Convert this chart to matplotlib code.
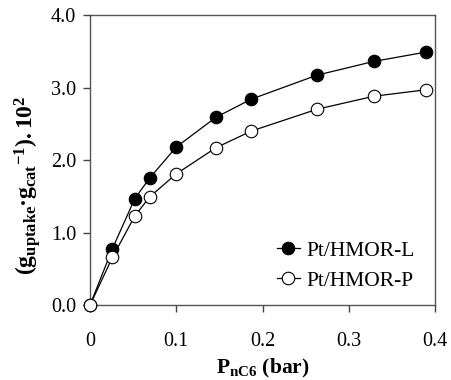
import matplotlib
matplotlib.use("Agg")
import matplotlib.pyplot as plt

p_nc6 = [0.0, 0.026, 0.052, 0.069, 0.100, 0.146, 0.187, 0.263, 0.329, 0.390]
pt_hmor_l = [0.0, 0.78, 1.47, 1.75, 2.18, 2.59, 2.84, 3.17, 3.36, 3.49]
pt_hmor_p = [0.0, 0.66, 1.23, 1.49, 1.81, 2.17, 2.40, 2.70, 2.88, 2.97]
xticks = [0, 0.1, 0.2, 0.3, 0.4]
xticklabels = ["0", "0.1", "0.2", "0.3", "0.4"]
yticks = [0, 1, 2, 3, 4]
yticklabels = ["0.0", "1.0", "2.0", "3.0", "4.0"]

plt.rcParams['font.family'] = ['Liberation Serif', 'DejaVu Serif']
plt.rcParams['mathtext.fontset'] = 'custom'
plt.rcParams['mathtext.rm'] = 'Liberation Serif:bold'
plt.rcParams['mathtext.bf'] = 'Liberation Serif:bold'
plt.rcParams['mathtext.it'] = 'Liberation Serif:bold'

fig = plt.figure(figsize=(4.51, 3.80), dpi=100)
ax = fig.add_axes([0.1996, 0.197, 0.7649, 0.7635])

ax.plot(p_nc6, pt_hmor_l, '-o', color='black', lw=0.9, ms=9,
        mfc='black', mec='black', mew=0.8, label='Pt/HMOR-L', clip_on=False, zorder=3)
ax.plot(p_nc6, pt_hmor_p, '-o', color='black', lw=0.9, ms=9,
        mfc='white', mec='black', mew=0.8, label='Pt/HMOR-P', clip_on=False, zorder=4)

ax.set_xlim(0, 0.4)
ax.set_ylim(0, 4.0)
ax.set_xticks(xticks)
ax.set_xticklabels(xticklabels)
ax.set_yticks(yticks)
ax.set_yticklabels(yticklabels)
ax.tick_params(direction='out', length=5, width=1, colors='#444444',
               labelcolor='black', labelsize=14.5)
ax.tick_params(axis='x', pad=14)
ax.tick_params(axis='y', pad=5)
for s in ax.spines.values():
    s.set_color('#555555')
    s.set_linewidth(1.0)

ax.set_xlabel(r'$\mathrm{P}_{\mathrm{nC6}}$ (bar)', fontsize=15.5, fontweight='bold')
ax.xaxis.set_label_coords(0.5, -0.178)
ax.set_ylabel(r'$(\mathrm{g}_{\mathrm{uptake}}\!\bullet\!\mathrm{g}_{\mathrm{cat}}{}^{\mathrm{-1}}).\mathrm{10}^{\mathrm{2}}$',
              fontsize=17)
ax.yaxis.set_label_coords(-0.135, 0.415)

leg = ax.legend(loc='lower right', bbox_to_anchor=(0.98, 0.005), frameon=False,
                fontsize=15.5, handlelength=1.1, handletextpad=0.3, labelspacing=0.45,
                borderaxespad=0.2)

fig.savefig('out.png', dpi=100)
